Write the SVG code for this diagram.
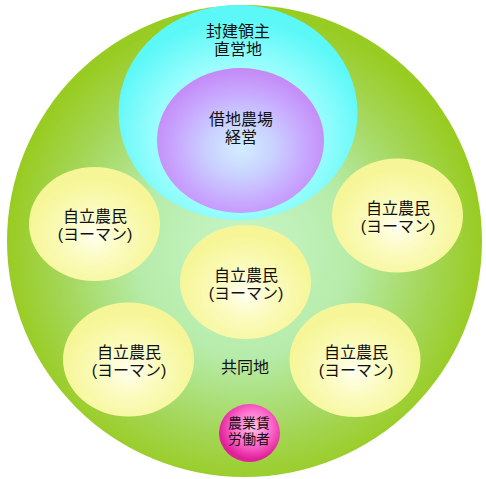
<svg xmlns="http://www.w3.org/2000/svg" width="486" height="479" viewBox="0 0 486 479">
<defs>
<radialGradient id="gBig" cx="0.5" cy="0.52" r="0.5">
<stop offset="0" stop-color="#c8f6c8"/>
<stop offset="0.45" stop-color="#b6ecaa"/>
<stop offset="0.78" stop-color="#a4d658"/>
<stop offset="1" stop-color="#99cc22"/>
</radialGradient>
<radialGradient id="gCyan" cx="0.5" cy="0.62" r="0.55">
<stop offset="0" stop-color="#e6ffff"/>
<stop offset="0.5" stop-color="#b0ffff"/>
<stop offset="1" stop-color="#5cf8f8"/>
</radialGradient>
<radialGradient id="gPurple" cx="0.5" cy="0.55" r="0.55">
<stop offset="0" stop-color="#d2eeff"/>
<stop offset="0.35" stop-color="#cad2ff"/>
<stop offset="0.7" stop-color="#c8a8ff"/>
<stop offset="1" stop-color="#c488f6"/>
</radialGradient>
<radialGradient id="gYellow" cx="0.5" cy="0.6" r="0.5">
<stop offset="0" stop-color="#fffff0"/>
<stop offset="0.45" stop-color="#fbfbbe"/>
<stop offset="1" stop-color="#f6f698"/>
</radialGradient>
<radialGradient id="gPink" cx="0.55" cy="0.4" r="0.55">
<stop offset="0" stop-color="#ffc4ea"/>
<stop offset="0.55" stop-color="#ff6ccc"/>
<stop offset="1" stop-color="#e0209a"/>
</radialGradient>
</defs>
<style>
text{font-family:"Liberation Sans","Noto Sans CJK JP","Noto Sans CJK SC",sans-serif;fill:#111;text-anchor:middle;font-size:16px}
.y{fill:url(#gYellow)}
.s{font-size:14px}
</style>
<g id="field">
<ellipse cx="244.5" cy="241" rx="237.5" ry="236" fill="url(#gBig)"/>
</g>
<g id="demesne">
<ellipse cx="238" cy="112.5" rx="119.5" ry="107.5" fill="url(#gCyan)"/>
<text x="238" y="37">封建領主<tspan x="238" dy="18">直営地</tspan></text>
</g>
<g id="leasehold">
<ellipse cx="240.5" cy="140.5" rx="83.5" ry="72.5" fill="url(#gPurple)"/>
<text x="241" y="125">借地農場<tspan x="241" dy="18">経営</tspan></text>
</g>
<g id="yeoman-left">
<ellipse class="y" cx="94.5" cy="224" rx="65.5" ry="57"/>
<text x="95" y="222">自立農民<tspan x="95" dy="18">(ヨーマン)</tspan></text>
</g>
<g id="yeoman-right">
<ellipse class="y" cx="397.5" cy="215.5" rx="65.5" ry="57"/>
<text x="398" y="214">自立農民<tspan x="398" dy="18">(ヨーマン)</tspan></text>
</g>
<g id="yeoman-center">
<ellipse class="y" cx="245.5" cy="282" rx="65.5" ry="57"/>
<text x="246" y="281">自立農民<tspan x="246" dy="18">(ヨーマン)</tspan></text>
</g>
<g id="yeoman-bottom-left">
<ellipse class="y" cx="128.5" cy="359.5" rx="65.5" ry="57"/>
<text x="129" y="358">自立農民<tspan x="129" dy="18">(ヨーマン)</tspan></text>
</g>
<g id="yeoman-bottom-right">
<ellipse class="y" cx="355" cy="360" rx="65.5" ry="57"/>
<text x="356" y="358">自立農民<tspan x="356" dy="18">(ヨーマン)</tspan></text>
</g>
<g id="commons">
<text x="245" y="373">共同地</text>
</g>
<g id="labourers">
<ellipse cx="249.5" cy="433" rx="30.5" ry="29" fill="url(#gPink)"/>
<text class="s" x="249" y="428">農業賃<tspan x="249" dy="16">労働者</tspan></text>
</g>
<g id="connectors"/>
</svg>
